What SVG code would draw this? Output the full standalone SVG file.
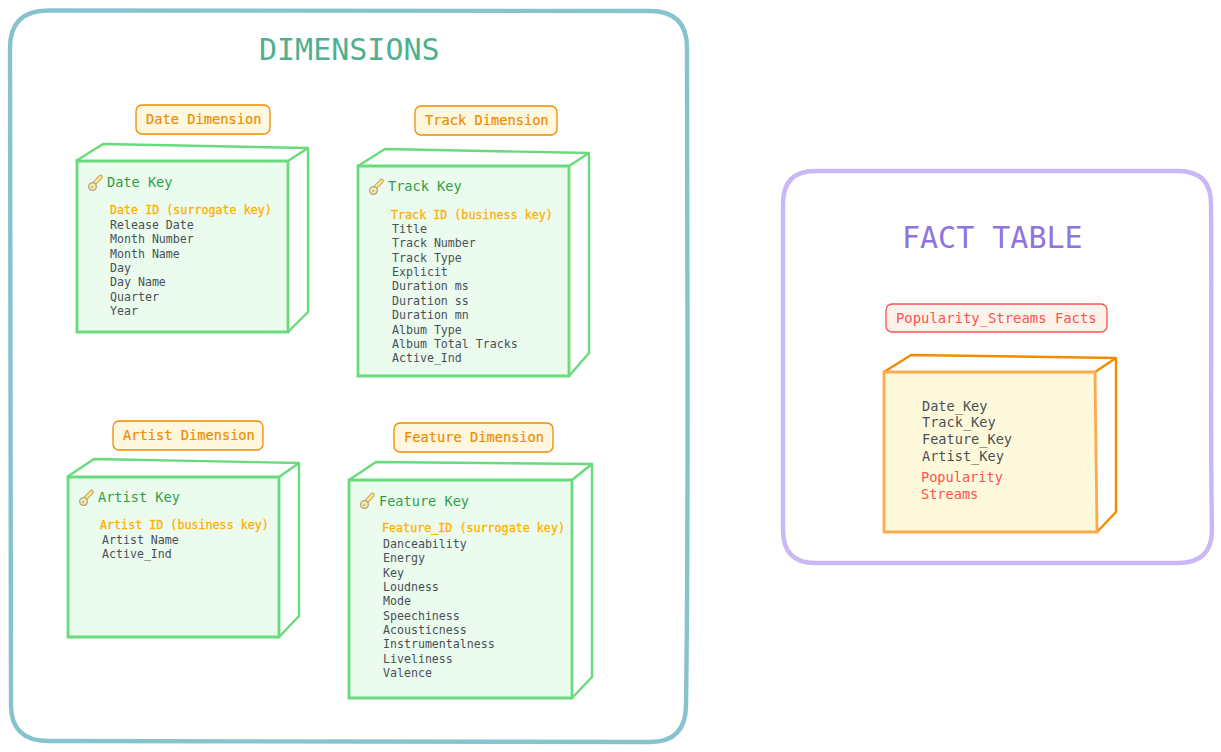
<svg xmlns="http://www.w3.org/2000/svg" width="1221" height="752" viewBox="0 0 1221 752">
<style>
text{font-family:"DejaVu Sans Mono","Liberation Mono",monospace;white-space:pre}
.frame{fill:#fff;stroke-width:4.4;stroke-linejoin:round}
.lab{stroke-width:1.3}
.orange{fill:#fff7de;stroke:#f08c00}
.red{fill:#fff2ea;stroke:#fa5252}
.lt{font-size:13.7px;fill:#f08c00;stroke:#f08c00;stroke-width:.2}
.top{fill:none;stroke:#69db7c;stroke-width:2.4;stroke-linejoin:round}
.front{fill:#ebfbee;stroke:#69db7c;stroke-width:2.8}
.fk{fill:none;stroke:#f08c00;stroke-width:2.4;stroke-linejoin:round}
.ff{fill:#fff9db;stroke:#ffa94d;stroke-width:2.8}
.key{font-size:13.6px;fill:#2f9e44}
.pk{font-size:11.7px;fill:#ffb000;stroke:#ffb000;stroke-width:.3}
.li{font-size:11.6px;fill:#495057}
.fl{font-size:13.6px;fill:#495057}
.fr{font-size:13.6px;fill:#fa5252}
</style>
<defs>
<g id="k"><path d="M3.5 12.5 L12.5 3" fill="none" stroke="#b9a45a" stroke-width="4.6" stroke-linecap="round"/><path d="M3.5 12.5 L12.5 3" fill="none" stroke="#ffe08a" stroke-width="2.6" stroke-linecap="round"/><circle cx="4.5" cy="12.5" r="3.8" fill="#ffe9a8" stroke="#a8a48a" stroke-width="1.3"/><circle cx="4.2" cy="13" r="1.2" fill="#bdb9a0"/></g>
</defs>
<g id="dimensions-frame"><path class="frame" stroke="#87c2cf" d="M48 10.500 C250 11 450 10 650 11 Q687 11 687 48 C687 280 689 500 686 705 Q686 742 650 742 C450 741 250 743 48 741 Q11 741 11 705 C10 500 12 280 10 48 Q10 10.500 48 10.500Z"/><text x="259" y="60" font-size="30px" fill="#4fb08f">DIMENSIONS</text></g>
<g id="fact-frame"><path class="frame" stroke="#c9b8f5" d="M815 171 C950 170 1070 172 1178 171 Q1211 171 1211 204 C1212 320 1210 430 1212 530 Q1212 563 1178 563 C1070 564 950 562 815 563 Q783 563 783 530 C782 430 784 320 783 204 Q783 171 815 171Z"/><text x="902" y="248" font-size="30px" fill="#8f74e0">FACT TABLE</text></g>
<g id="date-dimension">
<rect class="lab orange" x="136" y="105" width="134" height="29" rx="6"/><text class="lt" x="146" y="124">Date Dimension</text>
<path class="top" d="M76 161 L103 144 L308 148 L288 161 M308 148 L308 312 L288 332"/>
<path class="front" d="M77 161 L288 161 L288 332 L77 332Z"/>
<use href="#k" x="88" y="174"/><text class="key" x="107" y="187">Date Key</text>
<text class="pk" x="110" y="214">Date ID (surrogate key)</text>
<text class="li"><tspan x="110" y="229">Release Date</tspan><tspan x="110" y="243">Month Number</tspan><tspan x="110" y="258">Month Name</tspan><tspan x="110" y="272">Day</tspan><tspan x="110" y="286">Day Name</tspan><tspan x="110" y="301">Quarter</tspan><tspan x="110" y="315">Year</tspan></text>
</g>
<g id="track-dimension">
<rect class="lab orange" x="415" y="106" width="142" height="29" rx="6"/><text class="lt" x="425" y="125">Track Dimension</text>
<path class="top" d="M358 166 L385 149 L589 153 L569 166 M589 153 L589 353 L569 376"/>
<path class="front" d="M358 166 L569 166 L569 376 L358 376Z"/>
<use href="#k" x="369" y="178"/><text class="key" x="388" y="191">Track Key</text>
<text class="pk" x="391" y="219">Track ID (business key)</text>
<text class="li"><tspan x="392" y="233">Title</tspan><tspan x="392" y="247">Track Number</tspan><tspan x="392" y="262">Track Type</tspan><tspan x="392" y="276">Explicit</tspan><tspan x="392" y="290">Duration ms</tspan><tspan x="392" y="305">Duration ss</tspan><tspan x="392" y="319">Duration mn</tspan><tspan x="392" y="334">Album Type</tspan><tspan x="392" y="348">Album Total Tracks</tspan><tspan x="392" y="362">Active_Ind</tspan></text>
</g>
<g id="artist-dimension">
<rect class="lab orange" x="113" y="421" width="150" height="29" rx="6"/><text class="lt" x="123" y="440">Artist Dimension</text>
<path class="top" d="M67 477 L94 459 L299 463 L279 477 M299 463 L299 616 L279 637"/>
<path class="front" d="M68 477 L279 477 L279 637 L68 637Z"/>
<use href="#k" x="79" y="489"/><text class="key" x="98" y="502">Artist Key</text>
<text class="pk" x="100" y="529">Artist ID (business key)</text>
<text class="li"><tspan x="102" y="544">Artist Name</tspan><tspan x="102" y="558">Active_Ind</tspan></text>
</g>
<g id="feature-dimension">
<rect class="lab orange" x="394" y="423" width="159" height="29" rx="6"/><text class="lt" x="404" y="442">Feature Dimension</text>
<path class="top" d="M349 480 L376 462 L592 464 L572 480 M592 464 L592 677 L572 698"/>
<path class="front" d="M349 480 L572 480 L572 698 L349 698Z"/>
<use href="#k" x="360" y="492"/><text class="key" x="379" y="506">Feature Key</text>
<text class="pk" x="382" y="532">Feature_ID (surrogate key)</text>
<text class="li"><tspan x="383" y="548">Danceability</tspan><tspan x="383" y="562">Energy</tspan><tspan x="383" y="577">Key</tspan><tspan x="383" y="591">Loudness</tspan><tspan x="383" y="605">Mode</tspan><tspan x="383" y="620">Speechiness</tspan><tspan x="383" y="634">Acousticness</tspan><tspan x="383" y="648">Instrumentalness</tspan><tspan x="383" y="663">Liveliness</tspan><tspan x="383" y="677">Valence</tspan></text>
</g>
<g id="popularity-streams-facts">
<rect class="lab red" x="886" y="304" width="221" height="28" rx="6"/><text x="896" y="323" font-size="13.9px" fill="#fa5252">Popularity_Streams Facts</text>
<path class="fk" d="M884 372 L911 355 L1116 358 L1095 372 M1116 358 L1116 512 L1097 532"/>
<path class="ff" d="M884 372 L1095 372 L1097 532 L884 532Z"/>
<text class="fl"><tspan x="922" y="411">Date_Key</tspan><tspan x="922" y="427">Track_Key</tspan><tspan x="922" y="444">Feature_Key</tspan><tspan x="922" y="461">Artist_Key</tspan></text>
<text class="fr"><tspan x="921" y="482">Popularity</tspan><tspan x="921" y="499">Streams</tspan></text>
</g>
</svg>
